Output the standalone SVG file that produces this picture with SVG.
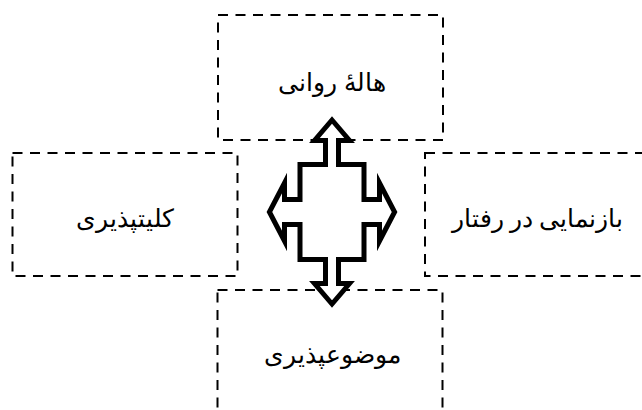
<svg xmlns="http://www.w3.org/2000/svg" width="642" height="410" viewBox="0 0 642 410">
<style>
.box{fill:none;stroke:#000;stroke-width:2;stroke-dasharray:10 7.5}
.lbl{font-family:"Liberation Serif","DejaVu Serif",serif;font-size:25px;fill:#000;text-anchor:middle;direction:rtl}
.arr{fill:#fff;stroke:#000;stroke-width:5;stroke-linejoin:miter;stroke-miterlimit:10}
</style>
<rect width="642" height="410" fill="#fff"/>
<g id="node-top"><rect class="box" x="218" y="15" width="225" height="125"/><text class="lbl" x="332" y="91">هالۀ روانی</text></g>
<g id="node-left"><rect class="box" x="12.5" y="153" width="225" height="123"/><text class="lbl" x="124.5" y="227">کلیتپذیری</text></g>
<g id="node-right"><rect class="box" x="425" y="153" width="230" height="123"/><text class="lbl" x="537.5" y="227">بازنمایی در رفتار</text></g>
<g id="node-bottom"><rect class="box" x="217.5" y="290" width="225" height="140"/><text class="lbl" x="332" y="363">موضوعپذیری</text></g>
<g id="connectors">
<path class="arr" d="M332,120 L349.5,140.5 L338.5,140.5 L338.5,164.5 L364,164.5 L364,199.5 L379.5,199.5 L379.5,183 L394.6,212 L379.5,241 L379.5,224.5 L364,224.5 L364,259.5 L338.5,259.5 L338.5,283.5 L349.5,283.5 L332,304 L314.5,283.5 L325.5,283.5 L325.5,259.5 L300,259.5 L300,224.5 L284.5,224.5 L284.5,241 L269.4,212 L284.5,183 L284.5,199.5 L300,199.5 L300,164.5 L325.5,164.5 L325.5,140.5 L314.5,140.5 Z"/>
</g>
</svg>
